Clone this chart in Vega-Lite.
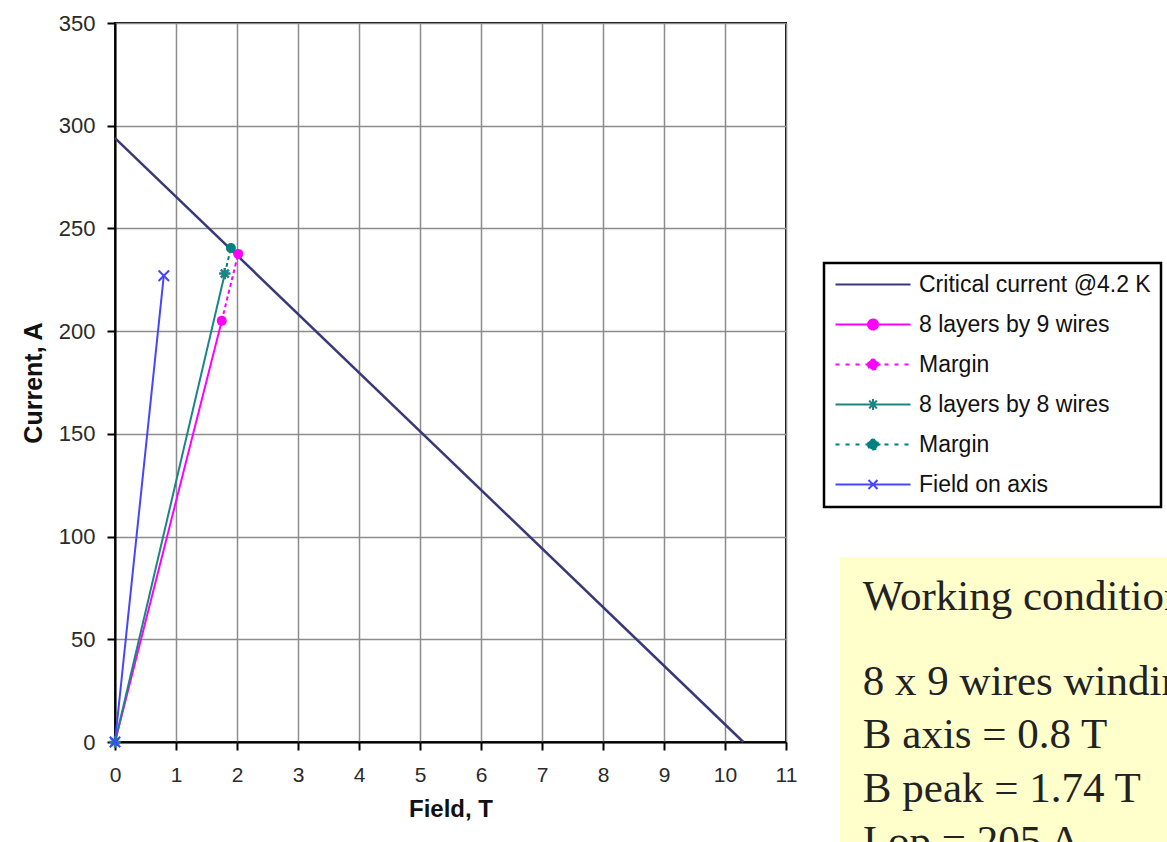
{
  "$schema": "https://vega.github.io/schema/vega-lite/v6.json",
  "width": 671,
  "height": 719,
  "autosize": {"type": "none"},
  "padding": {"left": 115, "top": 23, "right": 381, "bottom": 100},
  "background": "white",
  "config": {
    "view": {"stroke": "black", "strokeWidth": 2},
    "font": "Liberation Sans",
    "axis": {
      "domainColor": "black", "domainWidth": 2,
      "tickColor": "black", "tickWidth": 2, "tickSize": 8,
      "grid": true, "gridColor": "#8c8c8c", "gridWidth": 1.5,
      "labelFont": "Liberation Sans", "labelFontSize": 21, "labelColor": "#2a2a2a",
      "labelFlush": false, "labelOverlap": false,
      "titleFont": "Liberation Sans", "titleFontSize": 24, "titleFontWeight": "bold", "titleColor": "#111111"
    }
  },
  "datasets": {
    "lines": [
      {"series": "Critical current @4.2 K", "B": 0, "I": 294},
      {"series": "Critical current @4.2 K", "B": 10.3, "I": 0},
      {"series": "8 layers by 9 wires", "B": 0, "I": 0},
      {"series": "8 layers by 9 wires", "B": 1.75, "I": 205},
      {"series": "Margin", "B": 1.75, "I": 205},
      {"series": "Margin", "B": 2.02, "I": 237.6},
      {"series": "8 layers by 8 wires", "B": 0, "I": 0},
      {"series": "8 layers by 8 wires", "B": 1.8, "I": 228},
      {"series": "Margin ", "B": 1.8, "I": 228},
      {"series": "Margin ", "B": 1.9, "I": 240.5},
      {"series": "Field on axis", "B": 0, "I": 0},
      {"series": "Field on axis", "B": 0.8, "I": 227}
    ],
    "points": [
      {"series": "8 layers by 9 wires", "B": 1.75, "I": 205},
      {"series": "Margin", "B": 2.02, "I": 237.6},
      {"series": "8 layers by 8 wires", "B": 0, "I": 0},
      {"series": "8 layers by 8 wires", "B": 1.8, "I": 228},
      {"series": "Margin ", "B": 1.9, "I": 240.5},
      {"series": "Field on axis", "B": 0, "I": 0},
      {"series": "Field on axis", "B": 0.8, "I": 227}
    ],
    "notes": [
      {"text": "Working conditions", "B": 12.26, "I": 64.3},
      {"text": "8 x 9 wires winding", "B": 12.26, "I": 22.9},
      {"text": "B axis = 0.8 T", "B": 12.26, "I": -2.9},
      {"text": "B peak = 1.74 T", "B": 12.26, "I": -29.2},
      {"text": "I op = 205 A", "B": 12.26, "I": -55}
    ],
    "box": [{"B": 11.885, "B2": 18, "I": 90.1, "I2": -60}]
  },
  "layer": [
    {
      "data": {"name": "box"},
      "mark": {"type": "rect", "color": "#ffffcc"},
      "encoding": {
        "x": {"field": "B", "type": "quantitative", "scale": {"domain": [0, 11], "nice": false, "zero": false},
              "axis": {"values": [0,1,2,3,4,5,6,7,8,9,10,11], "format": "d", "title": "Field, T", "labelPadding": 14, "titlePadding": 12}},
        "x2": {"field": "B2"},
        "y": {"field": "I", "type": "quantitative", "scale": {"domain": [0, 350], "nice": false, "zero": false},
              "axis": {"values": [0,50,100,150,200,250,300,350], "format": "d", "title": "Current, A", "labelPadding": 12, "titlePadding": 12, "titleFontSize": 25, "labelFontSize": 22}},
        "y2": {"field": "I2"}
      }
    },
    {
      "data": {"name": "lines"},
      "transform": [{"filter": "datum.series === 'Critical current @4.2 K'"}],
      "mark": {"type": "line", "strokeWidth": 2.5},
      "encoding": {
        "x": {"field": "B", "type": "quantitative"},
        "y": {"field": "I", "type": "quantitative"},
        "color": {
          "field": "series", "type": "nominal",
          "scale": {
            "domain": ["Critical current @4.2 K", "8 layers by 9 wires", "Margin", "8 layers by 8 wires", "Margin ", "Field on axis"],
            "range": ["#38387a", "#ff00ff", "#ff00ff", "#1a8585", "#008080", "#4646ff"]
          },
          "legend": {
            "title": null, "orient": "none", "legendX": 709, "legendY": 240, "direction": "vertical",
            "strokeColor": "black", "fillColor": "white",
            "padding": 10, "rowPadding": 16, "labelFont": "Liberation Sans", "labelFontSize": 23,
            "labelColor": "#111111", "labelOffset": 62, "labelLimit": 400,
            "symbolSize": 400, "symbolStrokeWidth": 2,
            "encode": {
              "legend": {"update": {"strokeWidth": {"value": 2.5}}},
              "symbols": {
                "update": {
                  "shape": {"signal": "['M-1,0H6.5','M-1,0H6.5M2.25,0A0.5,0.5,0,1,0,3.25,0A0.5,0.5,0,1,0,2.25,0Z','M-1,0H-0.4M0,0H0.6M1,0H1.6M2,0H2.25M3.25,0H3.5M3.9,0H4.5M4.9,0H5.5M5.9,0H6.5M2.25,0A0.5,0.5,0,1,0,3.25,0A0.5,0.5,0,1,0,2.25,0Z','M-1,0H6.5M2.75,-0.55V0.55M2.36,-0.39L3.14,0.39M2.36,0.39L3.14,-0.39','M-1,0H-0.4M0,0H0.6M1,0H1.6M2,0H2.25M3.25,0H3.5M3.9,0H4.5M4.9,0H5.5M5.9,0H6.5M2.25,0A0.5,0.5,0,1,0,3.25,0A0.5,0.5,0,1,0,2.25,0Z','M-1,0H6.5M2.3,-0.45L3.2,0.45M2.3,0.45L3.2,-0.45'][datum.index]"},
                  "fill": {"scale": "color", "field": "value"},
                  "stroke": {"scale": "color", "field": "value"},
                  "strokeWidth": {"value": 2},
                  "opacity": {"value": 1},
                  "size": {"value": 400}
                }
              }
            }
          }
        }
      }
    },
    {
      "data": {"name": "lines"},
      "transform": [{"filter": "datum.series !== 'Critical current @4.2 K'"}],
      "mark": {"type": "line", "strokeWidth": 2},
      "encoding": {
        "x": {"field": "B", "type": "quantitative"},
        "y": {"field": "I", "type": "quantitative"},
        "color": {"field": "series", "type": "nominal"},
        "strokeDash": {
          "field": "series", "type": "nominal", "legend": null,
          "scale": {
            "domain": ["Critical current @4.2 K", "8 layers by 9 wires", "Margin", "8 layers by 8 wires", "Margin ", "Field on axis"],
            "range": [[1, 0], [1, 0], [4, 3], [1, 0], [4, 3], [1, 0]]
          }
        }
      }
    },
    {
      "data": {"name": "points"},
      "transform": [{"filter": "datum.series === '8 layers by 9 wires' || datum.series === 'Margin' || datum.series === 'Margin '"}],
      "mark": {"type": "point", "shape": "circle", "filled": true, "size": 100, "opacity": 1},
      "encoding": {
        "x": {"field": "B", "type": "quantitative"},
        "y": {"field": "I", "type": "quantitative"},
        "color": {"field": "series", "type": "nominal"}
      }
    },
    {
      "data": {"name": "points"},
      "transform": [{"filter": "datum.series === '8 layers by 8 wires'"}],
      "mark": {"type": "point", "shape": "M-1,0H1M0,-1V1M-0.7,-0.7L0.7,0.7M-0.7,0.7L0.7,-0.7", "filled": false, "size": 130, "strokeWidth": 2.5, "opacity": 1},
      "encoding": {
        "x": {"field": "B", "type": "quantitative"},
        "y": {"field": "I", "type": "quantitative"},
        "color": {"field": "series", "type": "nominal"}
      }
    },
    {
      "data": {"name": "points"},
      "transform": [{"filter": "datum.series === 'Field on axis'"}],
      "mark": {"type": "point", "shape": "M-1,-1L1,1M-1,1L1,-1", "filled": false, "size": 110, "strokeWidth": 2, "opacity": 1},
      "encoding": {
        "x": {"field": "B", "type": "quantitative"},
        "y": {"field": "I", "type": "quantitative"},
        "color": {"field": "series", "type": "nominal"}
      }
    },
    {
      "data": {"name": "notes"},
      "mark": {"type": "text", "font": "Liberation Serif", "fontSize": 43, "align": "left", "baseline": "alphabetic", "color": "#222222"},
      "encoding": {
        "x": {"field": "B", "type": "quantitative"},
        "y": {"field": "I", "type": "quantitative"},
        "text": {"field": "text", "type": "nominal"}
      }
    }
  ]
}
